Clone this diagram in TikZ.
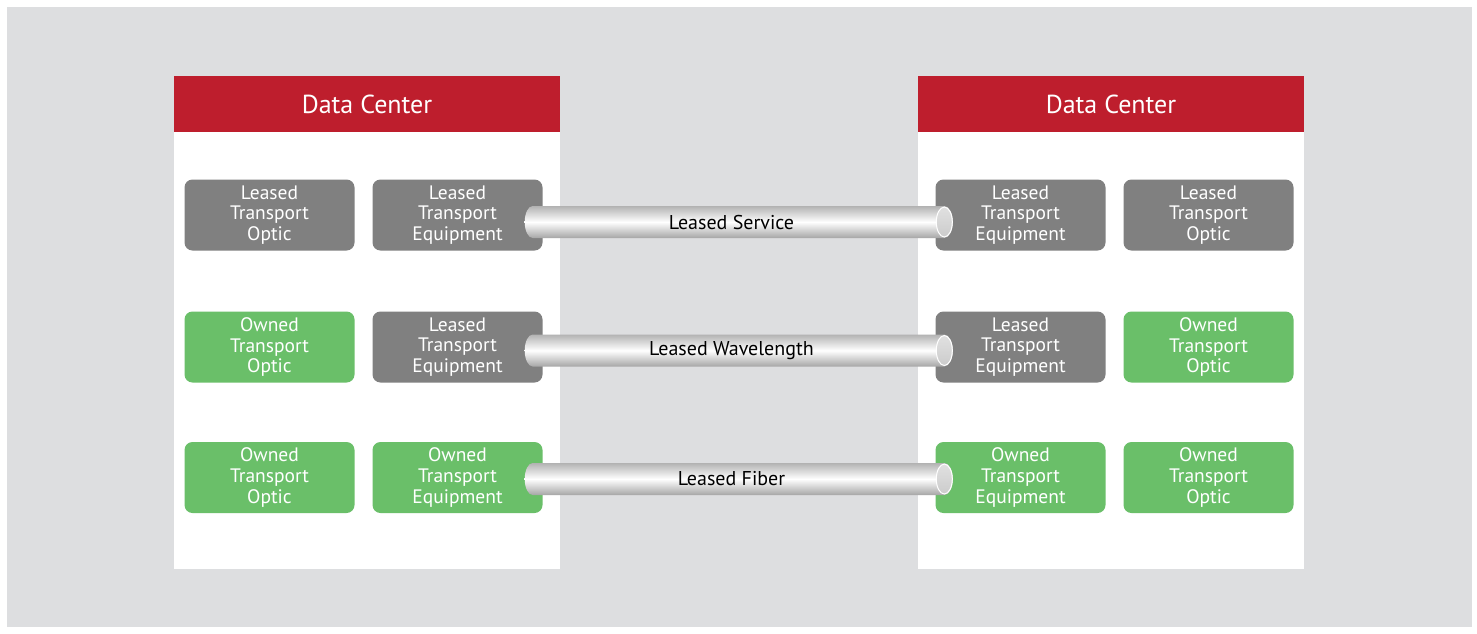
\documentclass[tikz,border=0pt]{standalone}
\usepackage{fontspec}
\setmainfont{PT Sans}
\usepackage{tikz}
\usetikzlibrary{calc}

\definecolor{dcred}{RGB}{190,30,45}
\definecolor{leasedgray}{RGB}{128,128,128}
\definecolor{ownedgreen}{RGB}{106,191,105}
\definecolor{bggray}{RGB}{221,222,224}

\begin{document}
\begin{tikzpicture}[x=1pt,y=-1pt]
        \tikzstyle{every node} = [rectangle, inner sep=0pt]
        \tikzstyle{panel} = [fill=white, minimum width=386pt, minimum height=493pt]
        \tikzstyle{header} = [fill=dcred, text=white, minimum width=386pt, minimum height=56pt,
            font=\fontsize{26}{30}\selectfont]
        \tikzstyle{unit} = [rounded corners=8pt, minimum width=170pt, minimum height=71pt,
            text=white, align=center, font=\fontsize{19.5}{20.7}\selectfont]
        \tikzstyle{leased} = [unit, fill=leasedgray]
        \tikzstyle{owned} = [unit, fill=ownedgreen]
        \tikzstyle{tube} = [top color=black!30, bottom color=black!35, middle color=white]
        \tikzstyle{tubelabel} = [text=black, font=\fontsize{20}{23}\selectfont]

        \useasboundingbox (0,0) rectangle (1477,633);
        \fill[bggray] (7,7) rectangle (1472,627);

        % the two data centers
        \node[panel] (dcl) at (367,322.5) {};
        \node[header] (hl) at (367,104) {Data Center};
        \node[panel] (dcr) at (1111,322.5) {};
        \node[header] (hr) at (1111,104) {Data Center};

        % left side
        \node[leased] (lop1) at (269.5,215) {Leased\\Transport\\Optic};
        \node[leased] (leq1) at (457.5,215) {Leased\\Transport\\Equipment};
        \node[owned] (lop2) at (269.5,347) {Owned\\Transport\\Optic};
        \node[leased] (leq2) at (457.5,347) {Leased\\Transport\\Equipment};
        \node[owned] (lop3) at (269.5,477.5) {Owned\\Transport\\Optic};
        \node[owned] (leq3) at (457.5,477.5) {Owned\\Transport\\Equipment};

        % right side
        \node[leased] (req1) at (1020.5,215) {Leased\\Transport\\Equipment};
        \node[leased] (rop1) at (1208.5,215) {Leased\\Transport\\Optic};
        \node[leased] (req2) at (1020.5,347) {Leased\\Transport\\Equipment};
        \node[owned] (rop2) at (1208.5,347) {Owned\\Transport\\Optic};
        \node[owned] (req3) at (1020.5,477.5) {Owned\\Transport\\Equipment};
        \node[owned] (rop3) at (1208.5,477.5) {Owned\\Transport\\Optic};

        % links
        \foreach \from/\to/\dy/\txt in {leq1/req1/-7/Leased Service,
                leq2/req2/-3.5/Leased Wavelength, leq3/req3/-1.5/Leased Fiber} {
            \coordinate (a\from) at ([xshift=-10pt,yshift=\dy pt]\from.east);
            \coordinate (b\from) at ([xshift=9pt,yshift=\dy pt]\to.west);
            \shade[tube] ([yshift=16pt]a\from) -- ([yshift=16pt]b\from)
                arc[start angle=90, end angle=-90, x radius=8.5pt, y radius=16pt]
                -- ([yshift=-16pt]a\from)
                arc[start angle=270, end angle=90, x radius=8pt, y radius=16pt] -- cycle;
            \shade[top color=black!12, bottom color=black!20, draw=white, line width=1pt]
                (b\from) ellipse[x radius=8pt, y radius=15pt];
            \node[tubelabel] (t\from) at ($(a\from)!0.5!(b\from)+(-7,0)$) {\txt};
        }
    \end{tikzpicture}
\end{document}
